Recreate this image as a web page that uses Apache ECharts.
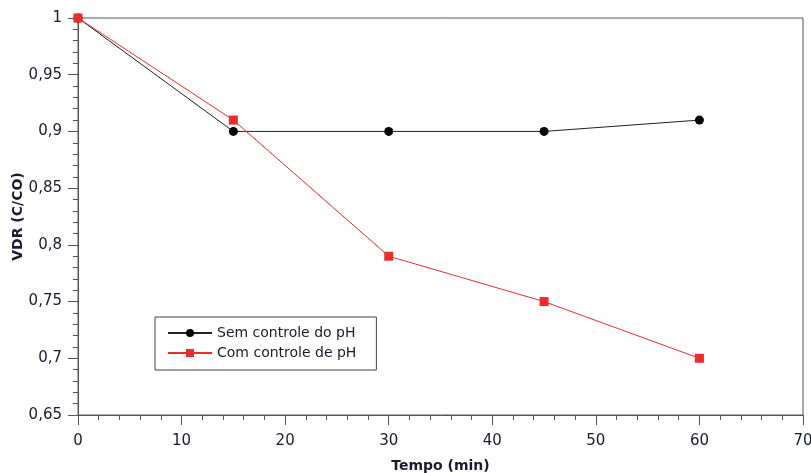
<!DOCTYPE html>
<html><head><meta charset="utf-8">
<script src="https://cdn.jsdelivr.net/npm/echarts@6/dist/echarts.min.js"></script>
<style>html,body{margin:0;padding:0;background:#fff}#c{width:811px;height:473px}</style>
</head><body><div id="c"></div>
<script>
const xValues = [0, 15, 30, 45, 60];
const semControle = [1, 0.9, 0.9, 0.9, 0.91];
const comControle = [1, 0.91, 0.79, 0.75, 0.70];
const seriesNames = ['Sem controle do pH', 'Com controle de pH'];

const toPairs = (ys) => xValues.map((x, i) => [x, ys[i]]);
const fmt = v => String(Math.round(v * 100) / 100).replace('.', ',');
const lblColor = '#1a1a30';
const axisCol = '#555';

const chart = echarts.init(document.getElementById('c'), null, {renderer: 'canvas'});
chart.setOption({
  animation: false,
  backgroundColor: '#fff',
  grid: {left: 78, right: 8, top: 18, bottom: 58, show: true, borderColor: axisCol, borderWidth: 1,
         containLabel: false, outerBoundsMode: 'none'},
  legend: {
    orient: 'vertical', left: 155, top: 317,
    data: seriesNames,
    borderColor: '#444', borderWidth: 1,
    padding: [9, 20, 10, 12],
    itemGap: 6, itemWidth: 44, itemHeight: 10,
    textStyle: {fontFamily: 'DejaVu Sans', fontSize: 14, color: lblColor}
  },
  xAxis: {
    type: 'value', min: 0, max: 70, interval: 10,
    name: 'Tempo (min)', nameLocation: 'middle', nameGap: 44, nameMoveOverlap: false,
    nameTextStyle: {fontFamily: 'DejaVu Sans', fontWeight: 'bold', fontSize: 14, color: lblColor},
    axisLine: {lineStyle: {color: axisCol}},
    axisTick: {inside: false, length: 10, lineStyle: {color: axisCol}},
    minorTick: {show: true, splitNumber: 5, length: 5, lineStyle: {color: axisCol}},
    splitLine: {show: false},
    axisLabel: {fontFamily: 'DejaVu Sans', fontSize: 15, color: lblColor, margin: 19}
  },
  yAxis: {
    type: 'value', min: 0.65, max: 1, interval: 0.05,
    name: 'VDR (C/CO)', nameLocation: 'middle', nameGap: 53, nameRotate: 90, nameMoveOverlap: false,
    nameTextStyle: {fontFamily: 'DejaVu Sans', fontWeight: 'bold', fontSize: 14, color: lblColor},
    axisLine: {lineStyle: {color: axisCol}},
    axisTick: {inside: false, length: 10, lineStyle: {color: axisCol}},
    minorTick: {show: true, splitNumber: 5, length: 5, lineStyle: {color: axisCol}},
    splitLine: {show: false},
    axisLabel: {fontFamily: 'DejaVu Sans', fontSize: 15, color: lblColor, margin: 16, formatter: fmt}
  },
  series: [
    {name: seriesNames[0], type: 'line', data: toPairs(semControle),
     symbol: 'circle', symbolSize: 9, color: '#000',
     lineStyle: {color: '#222', width: 1}, itemStyle: {color: '#000'}},
    {name: seriesNames[1], type: 'line', data: toPairs(comControle),
     symbol: 'rect', symbolSize: 9, color: '#ee2b2b',
     lineStyle: {color: '#ee2b2b', width: 1}, itemStyle: {color: '#ee2b2b'}}
  ]
});
</script></body></html>
